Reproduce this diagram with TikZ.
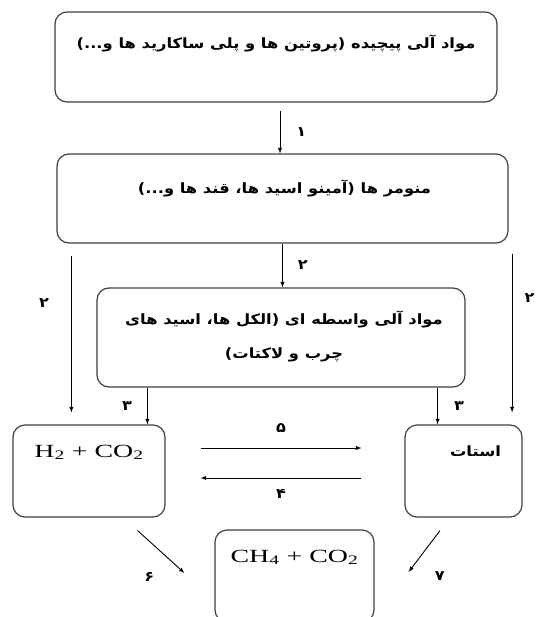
\documentclass[tikz,border=0pt]{standalone}
\usepackage{fontspec}
\setmainfont{Liberation Serif}[FakeStretch=1.5]
\newfontfamily\persianfont[Script=Arabic, FakeStretch=1.15]{DejaVu Sans}
\TeXXeTstate=1
\usetikzlibrary{positioning, arrows}
\tikzset{
    x=1pt, y=-1pt, % one unit is one pixel of the reference, y grows downwards
    >=latex, % filled triangular arrow heads
    every path/.style={line width=0.9pt}, % thin black connectors
}

\begin{document}
\begin{tikzpicture}[
        styleBox/.style={draw=black!75, line width=1.2pt, rounded corners=12pt},
        styleFa/.style={font=\persianfont\bfseries\fontsize{14.2}{34}\selectfont, inner sep=0pt, align=center},
        styleNum/.style={font=\persianfont\bfseries\fontsize{14}{16}\selectfont, inner sep=0pt},
        styleLat/.style={font=\fontsize{18.6}{20}\selectfont, inner sep=0pt},
    ]
    \useasboundingbox (0,0) rectangle (536,617);
    % boxes
    \node[styleBox, minimum width=442pt, minimum height=90pt] (organic) at (276,57) {};
    \node[styleBox, minimum width=451pt, minimum height=89pt] (monomer) at (282.5,198.5) {};
    \node[styleBox, minimum width=368pt, minimum height=99pt] (inter) at (281,337.5) {};
    \node[styleBox, minimum width=152pt, minimum height=92pt] (hydro) at (89,471) {};
    \node[styleBox, minimum width=117pt, minimum height=92pt] (acetate) at (463.5,471) {};
    \node[styleBox, minimum width=159pt, minimum height=92pt] (methane) at (294.5,576) {};
    % texts
    \node[styleFa, below=23pt of organic.north] (organicText) {\beginR مواد آلی پیچیده (پروتین ها و پلی ساکارید ها و...)\endR};
    \node[styleFa, below=26pt of monomer.north, xshift=2pt] (monomerText) {\beginR منومر ها (آمینو اسید ها، قند ها و...)\endR};
    \node[styleFa, below=23pt of inter.north, xshift=3pt] (interText) {\beginR مواد آلی واسطه ای (الکل ها، اسید های\endR\\\beginR چرب و لاکتات)\endR};
    \node[styleLat, below=20pt of hydro.north] (hydroText) {H\textsubscript{2} + CO\textsubscript{2}};
    \node[styleFa, below=21pt of acetate.north, xshift=12pt] (acetateText) {\beginR استات\endR};
    \node[styleLat, below=20pt of methane.north] (methaneText) {CH\textsubscript{4} + CO\textsubscript{2}};
    % free ends of the connectors
    \coordinate (leftTop) at ([xshift=15pt,yshift=-12pt]monomer.south west);
    \coordinate (leftEnd) at ([yshift=12pt]leftTop |- hydro.north);
    \coordinate (rightTop) at ([xshift=3.5pt,yshift=-10pt]monomer.south east);
    \coordinate (rightEnd) at ([yshift=12pt]rightTop |- acetate.north);
    \coordinate (threeLeft) at ([xshift=51pt]inter.south west);
    \coordinate (threeRight) at ([xshift=-28pt]inter.south east);
    \coordinate (fiveFrom) at ([xshift=35pt,yshift=23pt]hydro.east);
    \coordinate (fiveTo) at ([xshift=-43pt,yshift=23pt]acetate.west);
    \coordinate (fourFrom) at ([xshift=-43pt,yshift=-7pt]acetate.west);
    \coordinate (fourTo) at ([xshift=35pt,yshift=-7pt]hydro.east);
    \coordinate (sixFrom) at ([xshift=-28pt,yshift=-13pt]hydro.south east);
    \coordinate (sixTo) at ([xshift=-30pt,yshift=3pt]methane.west);
    \coordinate (sevenFrom) at ([xshift=-23.5pt,yshift=-13pt]acetate.south);
    \coordinate (sevenTo) at ([xshift=34pt,yshift=4pt]methane.east);
    % connectors
    \draw[->] ([xshift=4pt,yshift=-8pt]organic.south) -- ([xshift=4pt]organic.south |- monomer.north)
        node[styleNum, midway, right=16pt] (one) {۱};
    \draw[->] (monomer.south) -- (monomer.south |- inter.north)
        node[styleNum, midway, right=15pt] (twoMid) {۲};
    \draw[->] (leftTop) -- (leftEnd)
        node[styleNum, pos=0.3, left=22pt] (twoLeft) {۲};
    \draw[->] (rightTop) -- (rightEnd)
        node[styleNum, pos=0.28, right=12pt] (twoRight) {۲};
    \draw[->] (threeLeft) -- (threeLeft |- hydro.north)
        node[styleNum, midway, left=15pt] (threeL) {۳};
    \draw[->] (threeRight) -- (threeRight |- acetate.north)
        node[styleNum, midway, right=16pt] (threeR) {۳};
    \draw[->] (fiveFrom) -- (fiveTo)
        node[styleNum, midway, above=15pt] (five) {۵};
    \draw[->] (fourFrom) -- (fourTo)
        node[styleNum, midway, below=11pt] (four) {۴};
    \draw[->] (sixFrom) -- (sixTo)
        node[styleNum, pos=0.75, below left=10pt and 18pt] (six) {۶};
    \draw[->] (sevenFrom) -- (sevenTo)
        node[styleNum, pos=0.75, below right=10pt and 18pt] (seven) {۷};
\end{tikzpicture}
\end{document}
